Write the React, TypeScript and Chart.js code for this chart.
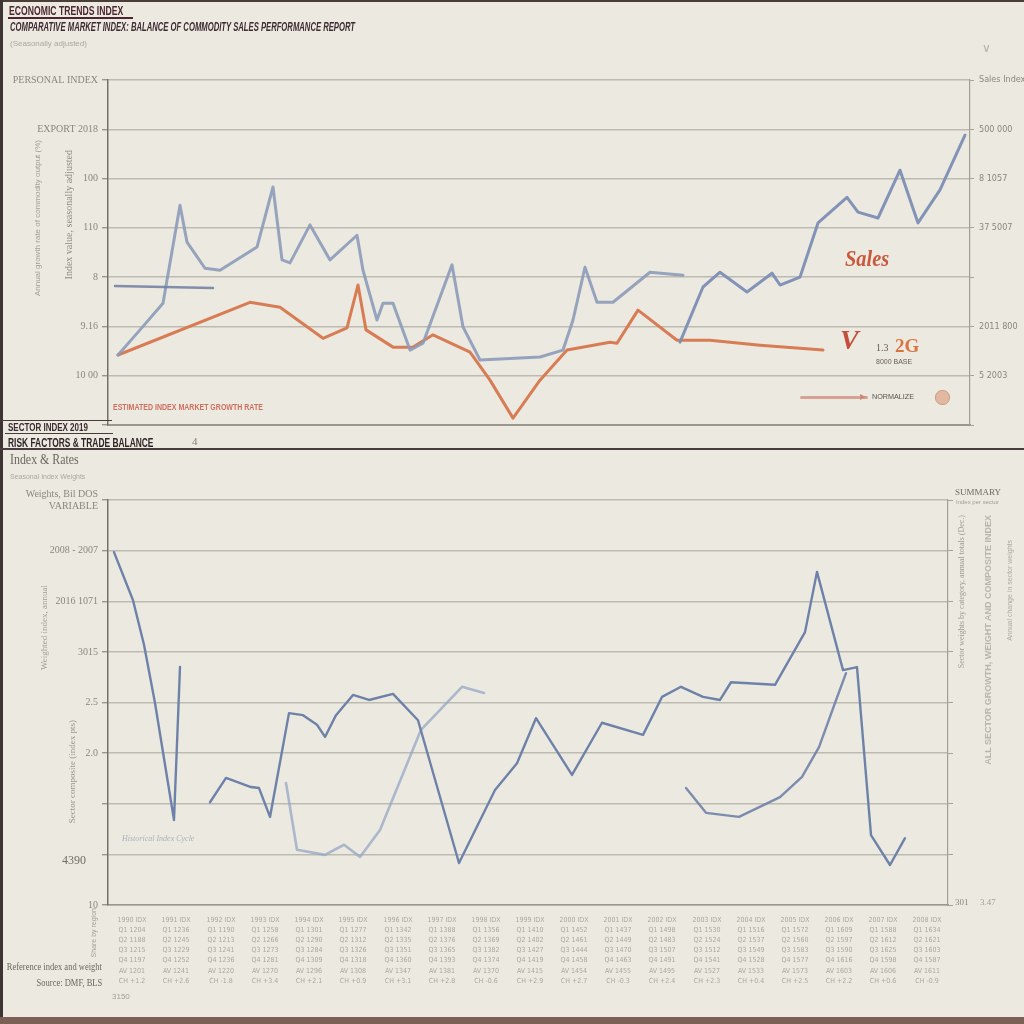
import React, { useEffect, useRef } from "react";
import { Chart, registerables } from "chart.js";
Chart.register(...registerables);

// ---------------- Top panel data ----------------
const topBlueFlatX = [0.7, 10.5];
const topBlueFlatY = [28.2, 27.8];

const topBlueMainX = [1.0, 3.2, 5.5, 7.2, 7.9, 9.7, 11.2, 14.9, 16.5, 17.4, 18.2, 20.2, 22.2, 24.9, 25.5, 26.9, 27.5, 28.5, 30.2, 31.5, 34.4, 35.5, 37.2, 43.2, 45.5, 46.5, 47.7, 48.9, 50.5, 54.2, 57.5];
const topBlueMainY = [14.2, 19.3, 24.7, 44.6, 37.1, 31.8, 31.4, 36.1, 48.3, 33.5, 32.9, 40.6, 33.5, 38.5, 31.4, 21.3, 24.7, 24.7, 15.2, 16.6, 32.5, 19.9, 13.2, 13.8, 15.2, 21.3, 32.0, 24.9, 24.9, 31.0, 30.4];

const topBlueRiseX = [57.2, 59.5, 61.2, 63.9, 66.4, 67.2, 69.2, 71.0, 73.9, 75.0, 77.0, 79.2, 81.0, 83.2, 85.7];
const topBlueRiseY = [16.8, 28.0, 31.0, 27.0, 30.8, 28.4, 30.0, 41.0, 46.2, 43.2, 42.0, 51.7, 41.0, 47.7, 58.8];

const topOrangeX = [1.0, 14.2, 17.2, 21.5, 23.9, 25.0, 25.8, 28.5, 30.5, 32.5, 36.2, 38.2, 40.5, 43.2, 45.9, 50.2, 50.9, 53.0, 56.9, 60.2, 65.2, 71.5];
const topOrangeY = [14.2, 24.9, 23.9, 17.6, 19.7, 28.4, 19.3, 15.8, 15.8, 18.3, 14.8, 9.1, 1.4, 9.1, 15.2, 16.8, 16.6, 23.3, 17.2, 17.2, 16.2, 15.2];

const topLeftTicks = ["PERSONAL INDEX", "EXPORT 2018", "100", "110", "8", "9.16", "10 00", ""];
const topRightTicks = ["Sales Index", "500 000", "8 1057", "37 5007", "", "2011 800", "5 2003", ""];

// ---------------- Bottom panel data ----------------
const bottomMainX = [0.6, 2.5, 3.6, 4.7, 6.6, 7.2, 8.5, 10.2, 11.8, 14.3, 15.1, 16.2, 18.1, 19.5, 20.9, 21.7, 22.8, 24.5, 26.1, 28.5, 31.0, 35.1, 38.7, 40.9, 42.8, 46.4, 49.4, 53.5, 55.4, 57.3, 59.5, 61.2, 62.3, 66.7, 69.7, 70.9, 73.5, 74.9, 76.3, 78.2, 79.7];
const bottomMainY = [69.7, 60.2, 51.4, 39.9, 16.8, 47.0, null, 20.3, 25.1, 23.3, 23.1, 17.4, 37.9, 37.5, 35.6, 33.2, 37.5, 41.5, 40.5, 41.7, 36.5, 8.3, 22.7, 28.0, 36.9, 25.7, 36.0, 33.6, 41.1, 43.1, 41.1, 40.5, 44.0, 43.5, 53.9, 65.8, 46.4, 47.0, 13.8, 7.9, 13.2];

const bottomLowX = [17.8, 18.9, 21.7, 23.6, 25.2, 27.2, 31.3, 35.4, 37.6];
const bottomLowY = [24.1, 10.9, 9.9, 11.9, 9.5, 14.8, 34.6, 43.1, 41.9];

const bottomForecastX = [57.8, 59.8, 63.1, 67.2, 69.4, 71.1, 72.7, 73.8];
const bottomForecastY = [23.1, 18.2, 17.4, 21.3, 25.3, 31.2, 39.9, 45.8];

const bottomLeftTicks: (string | string[])[] = [["Weights, Bil DOS", "VARIABLE"], "2008 - 2007", "2016 1071", "3015", "2.5", "2.0", "", "", "10"];

// table under the bottom chart (x-axis tick labels)
const tableColumnX = [2.4, 6.8, 11.3, 15.7, 20.1, 24.5, 29.0, 33.4, 37.8, 42.2, 46.6, 51.0, 55.4, 59.9, 64.3, 68.7, 73.1, 77.5, 81.9];
const tableYears = ["1990", "1991", "1992", "1993", "1994", "1995", "1996", "1997", "1998", "1999", "2000", "2001", "2002", "2003", "2004", "2005", "2006", "2007", "2008"];
const tableQ1 = ["1204", "1236", "1190", "1258", "1301", "1277", "1342", "1388", "1356", "1410", "1452", "1437", "1498", "1530", "1516", "1572", "1609", "1588", "1634"];
const tableQ2 = ["1188", "1245", "1213", "1266", "1290", "1312", "1335", "1376", "1369", "1402", "1461", "1449", "1483", "1524", "1537", "1560", "1597", "1612", "1621"];
const tableQ3 = ["1215", "1229", "1241", "1273", "1284", "1326", "1351", "1365", "1382", "1427", "1444", "1470", "1507", "1512", "1549", "1583", "1590", "1625", "1603"];
const tableQ4 = ["1197", "1252", "1236", "1281", "1309", "1318", "1360", "1393", "1374", "1419", "1458", "1463", "1491", "1541", "1528", "1577", "1616", "1598", "1587"];
const tableAvg = ["1201", "1241", "1220", "1270", "1296", "1308", "1347", "1381", "1370", "1415", "1454", "1455", "1495", "1527", "1533", "1573", "1603", "1606", "1611"];
const tableChg = ["+1.2", "+2.6", "-1.8", "+3.4", "+2.1", "+0.9", "+3.1", "+2.8", "-0.6", "+2.9", "+2.7", "-0.3", "+2.4", "+2.3", "+0.4", "+2.5", "+2.2", "+0.6", "-0.9"];

// ---------------- styling ----------------
const BG = "#ECEAE0";
const SERIF = '"Liberation Serif", "DejaVu Serif", serif';
const SANS = '"Liberation Sans", "DejaVu Sans", sans-serif';
const COND = '"DejaVu Sans Condensed", "DejaVu Sans", sans-serif';
const GRID = "#BDBAB1";
const TICK = "#8a867e";

const pts = (xs: number[], ys: (number | null)[]) => xs.map((x, i) => ({ x, y: ys[i] }));

function lineDs(label: string, xs: number[], ys: (number | null)[], color: string, width: number) {
  return {
    label,
    data: pts(xs, ys),
    borderColor: color,
    backgroundColor: color,
    borderWidth: width,
    pointRadius: 0,
    tension: 0,
    spanGaps: false,
    borderJoinStyle: "round" as const,
    borderCapStyle: "round" as const,
  };
}

function topConfig(): any {
  return {
    type: "line",
    data: {
      datasets: [
        lineDs("Base index", topBlueFlatX, topBlueFlatY, "rgba(110,125,160,0.85)", 2.5),
        lineDs("Sales index", topBlueMainX, topBlueMainY, "rgba(140,155,185,0.9)", 3),
        lineDs("Sales index (recent)", topBlueRiseX, topBlueRiseY, "rgba(125,142,180,0.95)", 3),
        lineDs("Growth rate", topOrangeX, topOrangeY, "rgba(214,118,76,0.95)", 3),
      ],
    },
    options: {
      animation: false,
      responsive: false,
      maintainAspectRatio: false,
      layout: { padding: { top: 80, bottom: 0, left: 0, right: 0 } },
      plugins: { legend: { display: false }, tooltip: { enabled: false }, title: { display: false } },
      scales: {
        x: {
          type: "linear",
          min: 0,
          max: 86.2,
          ticks: { display: false },
          grid: { display: false, drawTicks: false },
          border: { display: true, color: "#9b978e", width: 2 },
          afterFit: (s: any) => { s.height = 20; },
        },
        y: {
          position: "left",
          min: 0,
          max: 70,
          ticks: {
            stepSize: 10,
            color: TICK,
            padding: 4,
            font: { family: SERIF, size: 10 },
            callback: (v: number) => topLeftTicks[Math.round((70 - v) / 10)] ?? "",
          },
          grid: { color: GRID, lineWidth: 1.4, tickLength: 6, tickColor: "#9a968e" },
          border: { color: "#75716a", width: 1.5 },
          afterFit: (s: any) => { s.width = 108; },
        },
        y2: {
          position: "right",
          min: 0,
          max: 70,
          ticks: {
            stepSize: 10,
            color: TICK,
            padding: 5,
            font: { family: COND, size: 9 },
            callback: (v: number) => topRightTicks[Math.round((70 - v) / 10)] ?? "",
          },
          grid: { drawOnChartArea: false, tickLength: 4, tickColor: "#a6a298" },
          border: { color: "#a29e95", width: 1.2 },
          afterFit: (s: any) => { s.width = 54; },
        },
      },
    },
  };
}

function bottomConfig(): any {
  return {
    type: "line",
    data: {
      datasets: [
        lineDs("Composite index", bottomMainX, bottomMainY, "#6E82A9", 2.4),
        lineDs("Low cycle", bottomLowX, bottomLowY, "rgba(150,165,196,0.75)", 2.6),
        lineDs("Forecast", bottomForecastX, bottomForecastY, "rgba(112,130,168,0.9)", 2.4),
      ],
    },
    options: {
      animation: false,
      responsive: false,
      maintainAspectRatio: false,
      layout: { padding: { top: 55, bottom: 0, left: 0, right: 0 } },
      plugins: { legend: { display: false }, tooltip: { enabled: false }, title: { display: false } },
      scales: {
        x: {
          type: "linear",
          min: 0,
          max: 84,
          afterBuildTicks: (s: any) => { s.ticks = tableColumnX.map((v) => ({ value: v })); },
          ticks: {
            autoSkip: false,
            maxRotation: 0,
            minRotation: 0,
            padding: 10,
            color: "#aaa79f",
            font: { family: COND, size: 7, lineHeight: 1.45 },
            callback: (_v: number, i: number) => [
              tableYears[i] + " IDX",
              "Q1 " + tableQ1[i],
              "Q2 " + tableQ2[i],
              "Q3 " + tableQ3[i],
              "Q4 " + tableQ4[i],
              "AV " + tableAvg[i],
              "CH " + tableChg[i],
            ],
          },
          grid: { display: false, drawTicks: false },
          border: { display: true, color: "#9b978e", width: 1.5 },
          afterFit: (s: any) => { s.height = 119; },
        },
        y: {
          position: "left",
          min: 0,
          max: 80,
          ticks: {
            stepSize: 10,
            color: TICK,
            padding: 4,
            font: { family: SERIF, size: 10 },
            callback: (v: number) => bottomLeftTicks[Math.round((80 - v) / 10)] ?? "",
          },
          grid: { color: GRID, lineWidth: 1.4, tickLength: 6, tickColor: "#9a968e" },
          border: { color: "#75716a", width: 1.5 },
          afterFit: (s: any) => { s.width = 108; },
        },
        y2: {
          position: "right",
          min: 0,
          max: 80,
          ticks: { stepSize: 10, display: false },
          grid: { drawOnChartArea: false, tickLength: 5, tickColor: "#a6a298" },
          border: { color: "#a29e95", width: 1.2 },
          afterFit: (s: any) => { s.width = 76; },
        },
      },
    },
  };
}

type LP = {
  x: number; y: number; t: string; s?: number; c?: string; w?: number; f?: string;
  sx?: number; it?: boolean; right?: boolean; vert?: boolean;
};
function L({ x, y, t, s = 10, c = "#555", w = 400, f = SERIF, sx = 1, it = false, right = false, vert = false }: LP) {
  const style: React.CSSProperties = {
    position: "absolute",
    top: y,
    fontSize: s,
    color: c,
    fontWeight: w,
    fontFamily: f,
    fontStyle: it ? "italic" : "normal",
    whiteSpace: "nowrap",
    lineHeight: 1,
  };
  if (right) {
    style.right = 1024 - x;
    style.transformOrigin = "right top";
    style.transform = `scaleX(${sx})`;
  } else {
    style.left = x;
    style.transformOrigin = "left top";
    style.transform = `scaleX(${sx})`;
  }
  if (vert) {
    style.writingMode = "vertical-rl";
    style.transformOrigin = "center";
    style.transform = "rotate(180deg)";
  }
  return <div style={style}>{t}</div>;
}

function Box({ x, y, w, h, bg, r = 0, border }: { x: number; y: number; w: number; h: number; bg: string; r?: number; border?: string }) {
  return <div style={{ position: "absolute", left: x, top: y, width: w, height: h, background: bg, borderRadius: r, border }} />;
}

export default function App() {
  const topRef = useRef<HTMLCanvasElement>(null);
  const botRef = useRef<HTMLCanvasElement>(null);

  useEffect(() => {
    const c1 = new Chart(topRef.current as HTMLCanvasElement, topConfig());
    const c2 = new Chart(botRef.current as HTMLCanvasElement, bottomConfig());
    return () => {
      c1.destroy();
      c2.destroy();
    };
  }, []);

  return (
    <div style={{ position: "absolute", left: 0, top: 0, width: 1024, height: 1024, background: BG, overflow: "hidden" }}>
      <canvas ref={topRef} width={1024} height={445} style={{ position: "absolute", left: 0, top: 0 }} />
      <canvas ref={botRef} width={1024} height={579} style={{ position: "absolute", left: 0, top: 445 }} />

      {/* frame */}
      <Box x={0} y={0} w={1024} h={2} bg="#4a3d3a" />
      <Box x={0} y={0} w={3} h={1024} bg="#3d3533" />
      <Box x={0} y={1017} w={1024} h={7} bg="#7a6055" />

      {/* top header */}
      <L x={9} y={5} t="ECONOMIC TRENDS INDEX" s={12} w={700} c="#4b2630" f={SANS} sx={0.72} />
      <Box x={8} y={17} w={125} h={2} bg="#4b2630" />
      <L x={10} y={21} t="COMPARATIVE MARKET INDEX: BALANCE OF COMMODITY SALES PERFORMANCE REPORT" s={12} w={700} c="#3d2a33" f={SANS} sx={0.64} it />
      <L x={10} y={40} t="(Seasonally adjusted)" s={8} c="#aaa79e" f={SANS} />
      <L x={982} y={42} t="∨" s={12} c="#b5b1a8" f={SANS} />

      {/* top left rotated axis titles */}
      <L x={34} y={140} t="Annual growth rate of commodity output (%)" s={8} c="#a19e96" f={SANS} vert />
      <L x={64} y={150} t="Index value, seasonally adjusted" s={10} c="#8f8b83" f={SERIF} vert />

      {/* top annotations */}
      <L x={113} y={403} t="ESTIMATED INDEX MARKET GROWTH RATE" s={9} w={700} c="#cf6f5f" f={SANS} sx={0.78} />
      <L x={845} y={246} t="Sales" s={24} w={700} c="#c9583c" f={SERIF} it sx={0.85} />
      <L x={840} y={326} t="V" s={28} w={700} c="#c44e3c" f={SERIF} it />
      <L x={876} y={343} t="1.3" s={10} c="#6b5a55" f={SERIF} />
      <L x={895} y={336} t="2G" s={19} w={700} c="#d9733f" f={SERIF} />
      <L x={876} y={358} t="8000 BASE" s={7} c="#6b5a55" f={SANS} />
      <Box x={800} y={396} w={68} h={3} bg="#d8a293" r={2} />
      <L x={860} y={390} t="▸" s={12} c="#c98a7a" f={SANS} />
      <L x={872} y={393} t="NORMALIZE" s={8} c="#5a4f4a" f={SANS} sx={0.9} />
      <Box x={935} y={390} w={13} h={13} bg="#e2b9a0" r={7} border="1px solid #c99c88" />

      {/* middle header */}
      <Box x={0} y={420} w={112} h={1} bg="#4b3a3a" />
      <L x={8} y={423} t="SECTOR INDEX 2019" s={10} w={700} c="#3b2a30" f={SANS} sx={0.8} />
      <Box x={5} y={433} w={108} h={1} bg="#4b3a3a" />
      <L x={8} y={437} t="RISK FACTORS & TRADE BALANCE" s={12} w={700} c="#2f2328" f={SANS} sx={0.7} />
      <L x={192} y={436} t="4" s={11} c="#8a7a70" f={SERIF} />
      <Box x={0} y={448} w={1024} h={2} bg="#4a3d3d" />
      <L x={10} y={453} t="Index & Rates" s={14} c="#6a6760" f={SERIF} sx={0.85} />
      <L x={10} y={473} t="Seasonal Index Weights" s={7} c="#aaa79e" f={SANS} />

      {/* bottom left rotated titles */}
      <L x={40} y={585} t="Weighted index, annual" s={9} c="#a19e96" f={SERIF} vert />
      <L x={68} y={720} t="Sector composite (index pts)" s={9} c="#9a968e" f={SERIF} vert />
      <L x={62} y={854} t="4390" s={12} c="#6f6c66" f={SERIF} />
      <L x={122} y={835} t="Historical Index Cycle" s={8} c="#aab0bd" f={SERIF} it />

      {/* bottom-left table caption */}
      <L x={90} y={908} t="Share by region" s={7} c="#a19e96" f={SANS} vert />
      <L x={102} y={962} t="Reference index and weight" s={10} c="#6b6760" f={SERIF} right sx={0.85} />
      <L x={102} y={978} t="Source: DMF, BLS" s={10} c="#6b6760" f={SERIF} right sx={0.85} />
      <L x={112} y={993} t="3150" s={8} c="#a19e96" f={SANS} />

      {/* bottom right */}
      <L x={955} y={488} t="SUMMARY" s={9} c="#6d6a63" f={SERIF} />
      <L x={956} y={499} t="Index per sector" s={6} c="#a19e96" f={SANS} />
      <L x={958} y={515} t="Sector weights by category, annual totals (Dec.)" s={8} c="#9e9a92" f={SERIF} vert />
      <L x={984} y={515} t="ALL SECTOR GROWTH, WEIGHT AND COMPOSITE INDEX" s={9} w={700} c="#b9b5ac" f={SANS} vert />
      <L x={1006} y={540} t="Annual change in sector weights" s={7} c="#aeaaa2" f={SANS} vert />
      <L x={955} y={898} t="301" s={9} c="#8a867e" f={SERIF} />
      <L x={980} y={898} t="3.47" s={9} c="#a19e96" f={SERIF} />
    </div>
  );
}
